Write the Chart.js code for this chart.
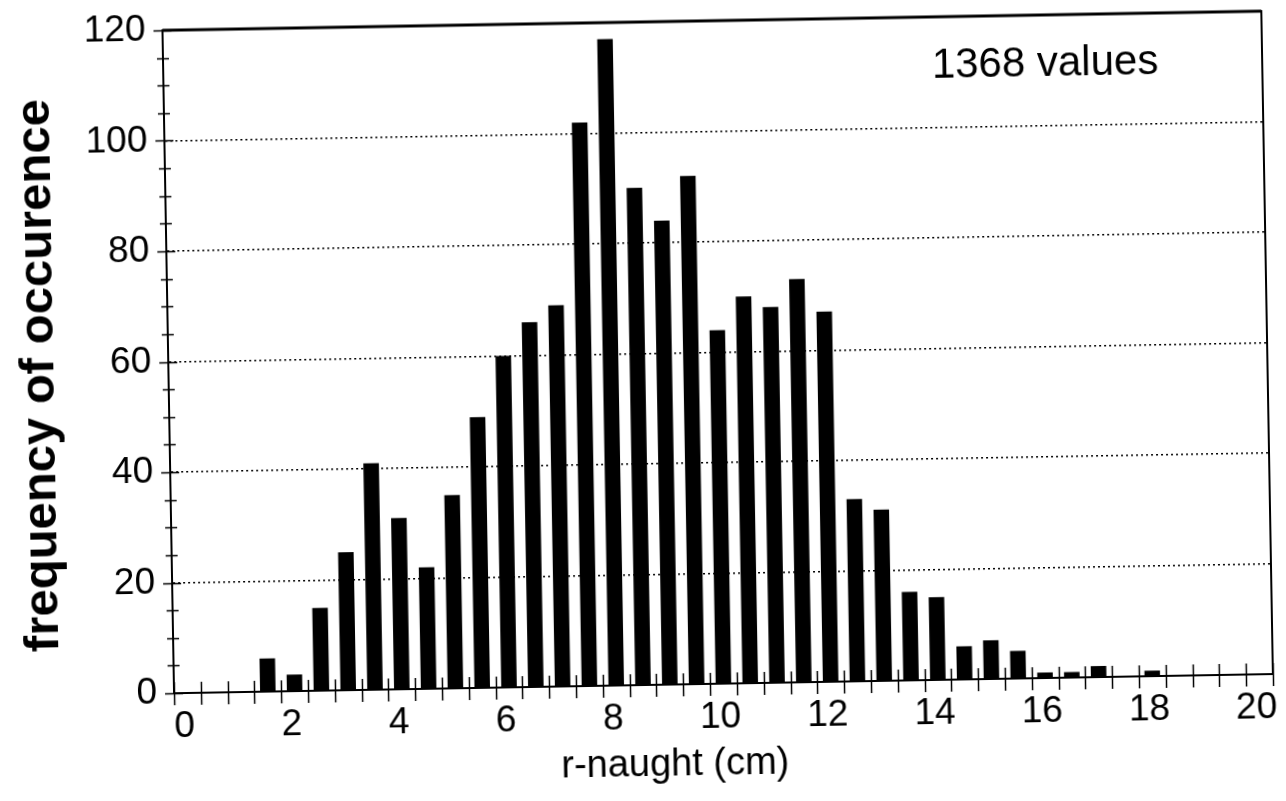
<!DOCTYPE html>
<html>
<head>
<meta charset="utf-8">
<script src="https://cdn.jsdelivr.net/npm/chart.js@4.4.0/dist/chart.umd.min.js"></script>
<style>
html,body{margin:0;padding:0;background:#fff;overflow:hidden;}
#wrap{width:1286px;height:801px;position:relative;overflow:hidden;}
/* the reference is a slightly skewed scan: tilt the whole chart by one degree */
canvas{display:block;transform:rotate(-1deg);transform-origin:643px 400px;}
</style>
</head>
<body>
<div id="wrap"><canvas id="c" width="1286" height="801"></canvas></div>
<script>
// ---- data ----
const binCenters = [1.75, 2.25, 2.75, 3.25, 3.75, 4.25, 4.75, 5.25, 5.75, 6.25, 6.75, 7.25, 7.75, 8.25, 8.75, 9.25, 9.75, 10.25, 10.75, 11.25, 11.75, 12.25, 12.75, 13.25, 13.75, 14.25, 14.75, 15.25, 15.75, 16.25, 16.75, 17.25, 17.75, 18.25];
const frequencies = [6, 3, 15, 25, 41, 31, 22, 35, 49, 60, 66, 69, 102, 117, 90, 84, 92, 64, 70, 68, 73, 67, 33, 31, 16, 15, 6, 7, 5, 1, 1, 2, 0, 1];
const xTickLabels = [0, 2, 4, 6, 8, 10, 12, 14, 16, 18, 20];
const yTickLabels = [0, 20, 40, 60, 80, 100, 120];
const xTitle = 'r-naught (cm)';
const yTitle = 'frequency of occurence';
const noteText = '1368 values';

const FONT = '"Liberation Sans", Arial, sans-serif';

const decor = {
  id: 'decor',
  afterDraw(chart) {
    const {ctx, chartArea: a, scales: {x, y}} = chart;
    ctx.save();
    ctx.strokeStyle = '#000';
    ctx.lineCap = 'butt';
    // frame
    ctx.lineWidth = 2;
    ctx.strokeRect(a.left, a.top, a.right - a.left, a.bottom - a.top);
    ctx.lineWidth = 3;
    ctx.beginPath(); ctx.moveTo(a.left, a.top); ctx.lineTo(a.right, a.top); ctx.stroke();
    // x tick marks crossing the axis
    ctx.lineWidth = 1.5;
    x.ticks.forEach(t => {
      const px = Math.round(x.getPixelForValue(t.value)) + 0.5;
      ctx.beginPath(); ctx.moveTo(px, a.bottom - 11); ctx.lineTo(px, a.bottom + 12); ctx.stroke();
    });
    // y tick marks crossing the axis
    y.ticks.forEach(t => {
      const py = Math.round(y.getPixelForValue(t.value)) + 0.5;
      const L = (t.value % 20 === 0) ? 9 : 6;
      ctx.beginPath(); ctx.moveTo(a.left - L, py); ctx.lineTo(a.left + L, py); ctx.stroke();
    });
    ctx.fillStyle = '#000';
    ctx.textAlign = 'center';
    ctx.textBaseline = 'middle';
    // annotation
    ctx.font = '42px ' + FONT;
    ctx.fillText(noteText, x.getPixelForValue(16.45), y.getPixelForValue(111));
    // x axis title
    ctx.font = '38px ' + FONT;
    ctx.fillText(xTitle, 669, 766);
    // y axis title
    ctx.save();
    ctx.translate(40, 365);
    ctx.rotate(-Math.PI / 2);
    ctx.font = 'bold 49px ' + FONT;
    ctx.fillText(yTitle, 0, 0);
    ctx.restore();
    ctx.restore();
  }
};

new Chart(document.getElementById('c'), {
  type: 'bar',
  data: {
    datasets: [{
      data: binCenters.map((c, i) => ({x: c, y: frequencies[i]})),
      backgroundColor: '#000',
      borderWidth: 0,
      barPercentage: 0.58,
      categoryPercentage: 1.0
    }]
  },
  options: {
    responsive: false,
    animation: false,
    devicePixelRatio: 1,
    layout: {padding: {left: 0, right: 18, top: 22, bottom: 0}},
    plugins: {legend: {display: false}, tooltip: {enabled: false}},
    scales: {
      x: {
        type: 'linear',
        offset: false,
        min: 0,
        max: 20.5,
        afterFit: s => { s.height = 116; s.paddingLeft = 0; s.paddingRight = 0; },
        grid: {display: false, drawTicks: false, offset: false},
        border: {display: true, color: '#000', width: 2},
        ticks: {
          stepSize: 0.5,
          autoSkip: false,
          maxRotation: 0,
          labelOffset: 10,
          padding: 12,
          color: '#000',
          font: {family: FONT, size: 37},
          callback: v => xTickLabels.includes(v) ? String(v) : ''
        },
        title: {display: false}
      },
      y: {
        min: 0,
        max: 120,
        afterFit: s => { s.width = 169; s.paddingTop = 0; s.paddingBottom = 0; },
        grid: {
          drawTicks: false,
          lineWidth: 1.5,
          color: c => (c.tick && c.tick.value % 20 === 0 && c.tick.value > 0 && c.tick.value < 120) ? '#000' : 'rgba(0,0,0,0)'
        },
        border: {display: true, color: '#000', width: 2, dash: [2, 3]},
        ticks: {
          stepSize: 5,
          autoSkip: false,
          padding: 17,
          color: '#000',
          font: {family: FONT, size: 37},
          callback: v => yTickLabels.includes(v) ? String(v) : ''
        },
        title: {display: false}
      }
    }
  },
  plugins: [decor]
});
</script>
</body>
</html>
